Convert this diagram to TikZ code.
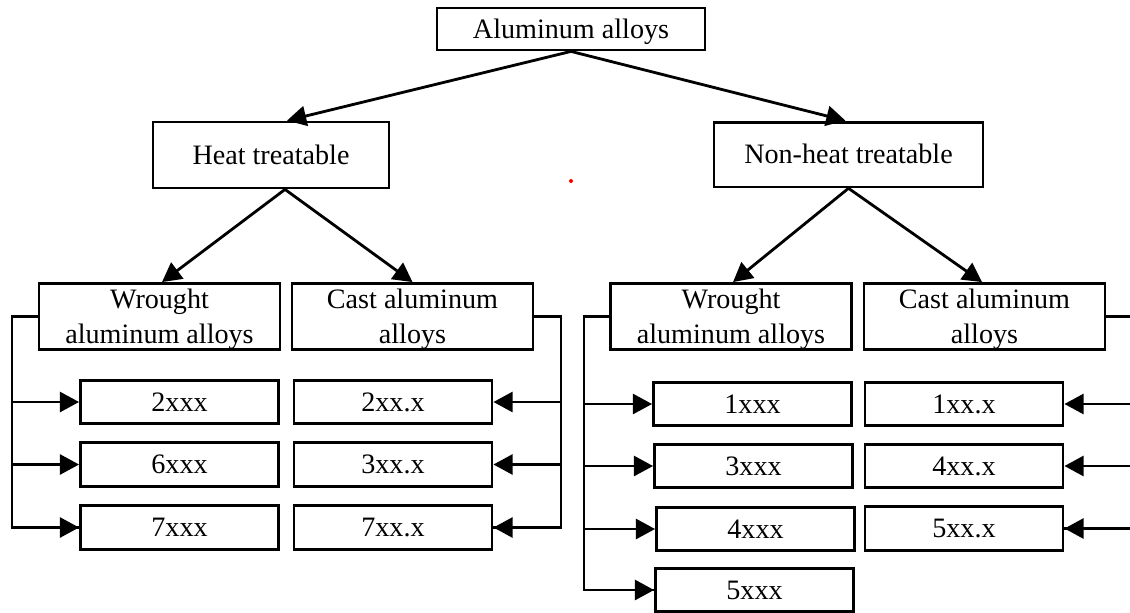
\documentclass[tikz,border=0pt]{standalone}
\usepackage{fontspec}
\setmainfont{Liberation Serif}
\usetikzlibrary{arrows.meta,calc}

\begin{document}
\begin{tikzpicture}[x=0.025cm,y=-0.025cm,
    box/.style={draw,line width=2pt,inner sep=0pt,align=center,
        font=\fontsize{20}{24.9}\selectfont,text height=16pt,text depth=3.2pt},
    leaf/.style={box,minimum width=4.95cm,minimum height=1.08cm},
    group/.style={box,minimum width=6.02cm,minimum height=1.65cm,text height=42.3pt,text depth=3.2pt},
    link/.style={line width=2pt},
    arr/.style={link,-{Triangle[length=0.48cm,width=0.5cm]}}]
    \clip (0,0) rectangle (1130,612);

    % top levels
    \node[box,minimum width=6.7cm,minimum height=1.05cm] (alloys) at (571,29) {Aluminum alloys};
    \node[box,minimum width=5.9cm,minimum height=1.65cm] (heat) at (271,155) {Heat treatable};
    \node[box,minimum width=6.72cm,minimum height=1.62cm] (nonheat) at (848.5,154.5) {Non-heat treatable};

    \node[group] (wrL) at (159.5,316.5) {Wrought\\aluminum alloys};
    \node[group] (castL) at (412.5,316.5) {Cast aluminum\\alloys};
    \node[group] (wrR) at (731,316.5) {Wrought\\aluminum alloys};
    \node[group] (castR) at (984.5,316.5) {Cast aluminum\\alloys};

    % series boxes
    \node[leaf] (w2) at (179.5,402) {2xxx};
    \node[leaf] (w6) at (179.5,464.5) {6xxx};
    \node[leaf] (w7) at (179.5,527.5) {7xxx};
    \node[leaf] (c2) at (393,402) {2xx.x};
    \node[leaf] (c3) at (393,464.5) {3xx.x};
    \node[leaf] (c7) at (393,527.5) {7xx.x};
    \node[leaf] (w1) at (752.5,404) {1xxx};
    \node[leaf] (w3) at (753.5,466) {3xxx};
    \node[leaf] (w4) at (755.5,529) {4xxx};
    \node[leaf] (w5) at (754.5,590) {5xxx};
    \node[leaf] (c1) at (964,404) {1xx.x};
    \node[leaf] (c4) at (964,466) {4xx.x};
    \node[leaf] (c5) at (964,528.5) {5xx.x};

    % tree arrows
    \draw[arr] (alloys.south) -- ($(heat.north)+(16,0)$);
    \draw[arr] (alloys.south) -- ($(nonheat.north)+(-3,0)$);
    \draw[arr] ($(heat.south)+(14,0)$) -- ($(wrL.north)+(2.5,0)$);
    \draw[arr] ($(heat.south)+(14,0)$) -- (castL.north);
    \draw[arr] (nonheat.south) -- ($(wrR.north)+(2,0)$);
    \draw[arr] (nonheat.south) -- ($(castR.north)+(-2.5,0)$);

    % brackets
    \coordinate (bL) at (12,316.5);
    \coordinate (bC) at (561,316.5);
    \coordinate (bR) at (584,316.5);
    \coordinate (bF) at (1142,316.5);
    \draw[link] (wrL.west) -- (bL) |- (w7.west);
    \draw[link] (castL.east) -- (bC) |- (c7.east);
    \draw[link] (wrR.west) -- (bR) |- (w5.west);
    \draw[link] (castR.east) -- (bF) |- (c5.east);
    \foreach \n in {w2,w6,w7} \draw[arr] (bL |- \n.west) -- (\n.west);
    \foreach \n in {c2,c3,c7} \draw[arr] (bC |- \n.east) -- (\n.east);
    \foreach \n in {w1,w3,w4,w5} \draw[arr] (bR |- \n.west) -- (\n.west);
    \foreach \n in {c1,c4,c5} \draw[arr] (bF |- \n.east) -- (\n.east);

    \fill[red] (571,181) circle (0.05cm);
\end{tikzpicture}
\end{document}
